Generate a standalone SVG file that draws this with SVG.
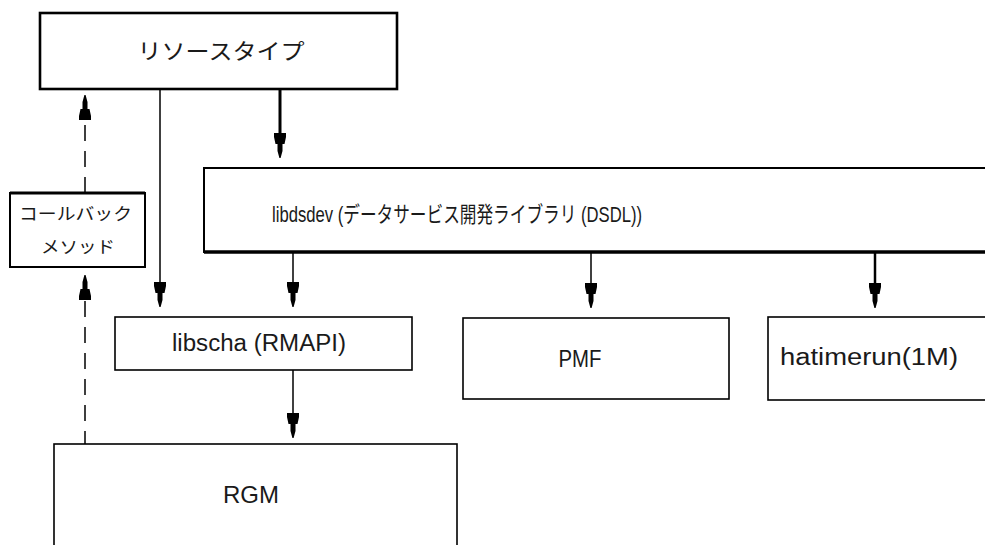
<svg xmlns="http://www.w3.org/2000/svg" xmlns:xlink="http://www.w3.org/1999/xlink" width="985" height="545" viewBox="0 0 985 545">
<style>
.box{fill:#fff;stroke:#000;stroke-width:1.6}
.t{font-family:"Liberation Sans","Noto Sans CJK JP",sans-serif;fill:#1a1a1a}
.ln{stroke:#000;stroke-width:1.5;fill:none}
.dash{stroke:#000;stroke-width:1.5;fill:none;stroke-dasharray:16 10}
.ah{fill:#000}
</style>
<defs>
<path id="ah" class="ah" d="M-6,-25 H6 V-21 L4.5,-14 H2.5 V-7 L0.6,0 H-0.6 L-2.5,-7 V-14 H-4.5 L-6,-21 Z"/>
</defs>
<rect width="985" height="545" fill="#fff"/>

<g id="connectors">
<line class="ln" x1="160" y1="89" x2="160" y2="290"/>
<use xlink:href="#ah" transform="translate(160,307)"/>
<line class="ln" x1="280" y1="89" x2="280" y2="140" style="stroke-width:3"/>
<use xlink:href="#ah" transform="translate(280,158)"/>
<line class="ln" x1="293" y1="252" x2="293" y2="290"/>
<use xlink:href="#ah" transform="translate(293,307)"/>
<line class="ln" x1="591" y1="252" x2="591" y2="290"/>
<use xlink:href="#ah" transform="translate(591,308)"/>
<line class="ln" x1="875" y1="252" x2="875" y2="290" style="stroke-width:2.5"/>
<use xlink:href="#ah" transform="translate(875,308)"/>
<line class="ln" x1="293" y1="370" x2="293" y2="420"/>
<use xlink:href="#ah" transform="translate(293,438)"/>
<line class="dash" x1="85" y1="193" x2="85" y2="112"/>
<use xlink:href="#ah" transform="translate(85,95) rotate(180)"/>
<line class="dash" x1="85" y1="447" x2="85" y2="290"/>
<use xlink:href="#ah" transform="translate(85,275) rotate(180)"/>
</g>

<g id="resource-type">
<rect class="box" x="40" y="13" width="357" height="76" style="stroke-width:2.6"/>
<text class="t" x="221" y="59" font-size="22" text-anchor="middle" textLength="167" lengthAdjust="spacingAndGlyphs">リソースタイプ</text>
</g>

<g id="libdsdev">
<rect class="box" x="204" y="168" width="800" height="84" style="stroke-width:2"/>
<line x1="204" y1="252" x2="985" y2="252" stroke="#000" stroke-width="3.5"/>
<text class="t" x="457" y="222" font-size="22" text-anchor="middle" textLength="370" lengthAdjust="spacingAndGlyphs">libdsdev (データサービス開発ライブラリ (DSDL))</text>
</g>

<g id="callback">
<rect class="box" x="10" y="193" width="135" height="74" style="stroke-width:2"/>
<line x1="10" y1="193" x2="145" y2="193" stroke="#000" stroke-width="3"/>
<text class="t" x="75.5" y="220" font-size="17" text-anchor="middle" textLength="113" lengthAdjust="spacingAndGlyphs">コールバック</text>
<text class="t" x="78" y="253" font-size="17" text-anchor="middle" textLength="74" lengthAdjust="spacingAndGlyphs">メソッド</text>
</g>

<g id="libscha">
<rect class="box" x="115" y="317" width="297" height="53"/>
<text class="t" x="259" y="351" font-size="23" text-anchor="middle" textLength="174" lengthAdjust="spacingAndGlyphs">libscha (RMAPI)</text>
</g>

<g id="pmf">
<rect class="box" x="463" y="318" width="266" height="81"/>
<text class="t" x="580" y="367" font-size="23" text-anchor="middle" textLength="43" lengthAdjust="spacingAndGlyphs">PMF</text>
</g>

<g id="hatimerun">
<rect class="box" x="768" y="317" width="240" height="83"/>
<text class="t" x="869" y="365" font-size="23" text-anchor="middle" textLength="178" lengthAdjust="spacingAndGlyphs">hatimerun(1M)</text>
</g>

<g id="rgm">
<rect class="box" x="54" y="444" width="403" height="120"/>
<text class="t" x="251" y="503" font-size="24" text-anchor="middle" textLength="56" lengthAdjust="spacingAndGlyphs">RGM</text>
</g>
</svg>
